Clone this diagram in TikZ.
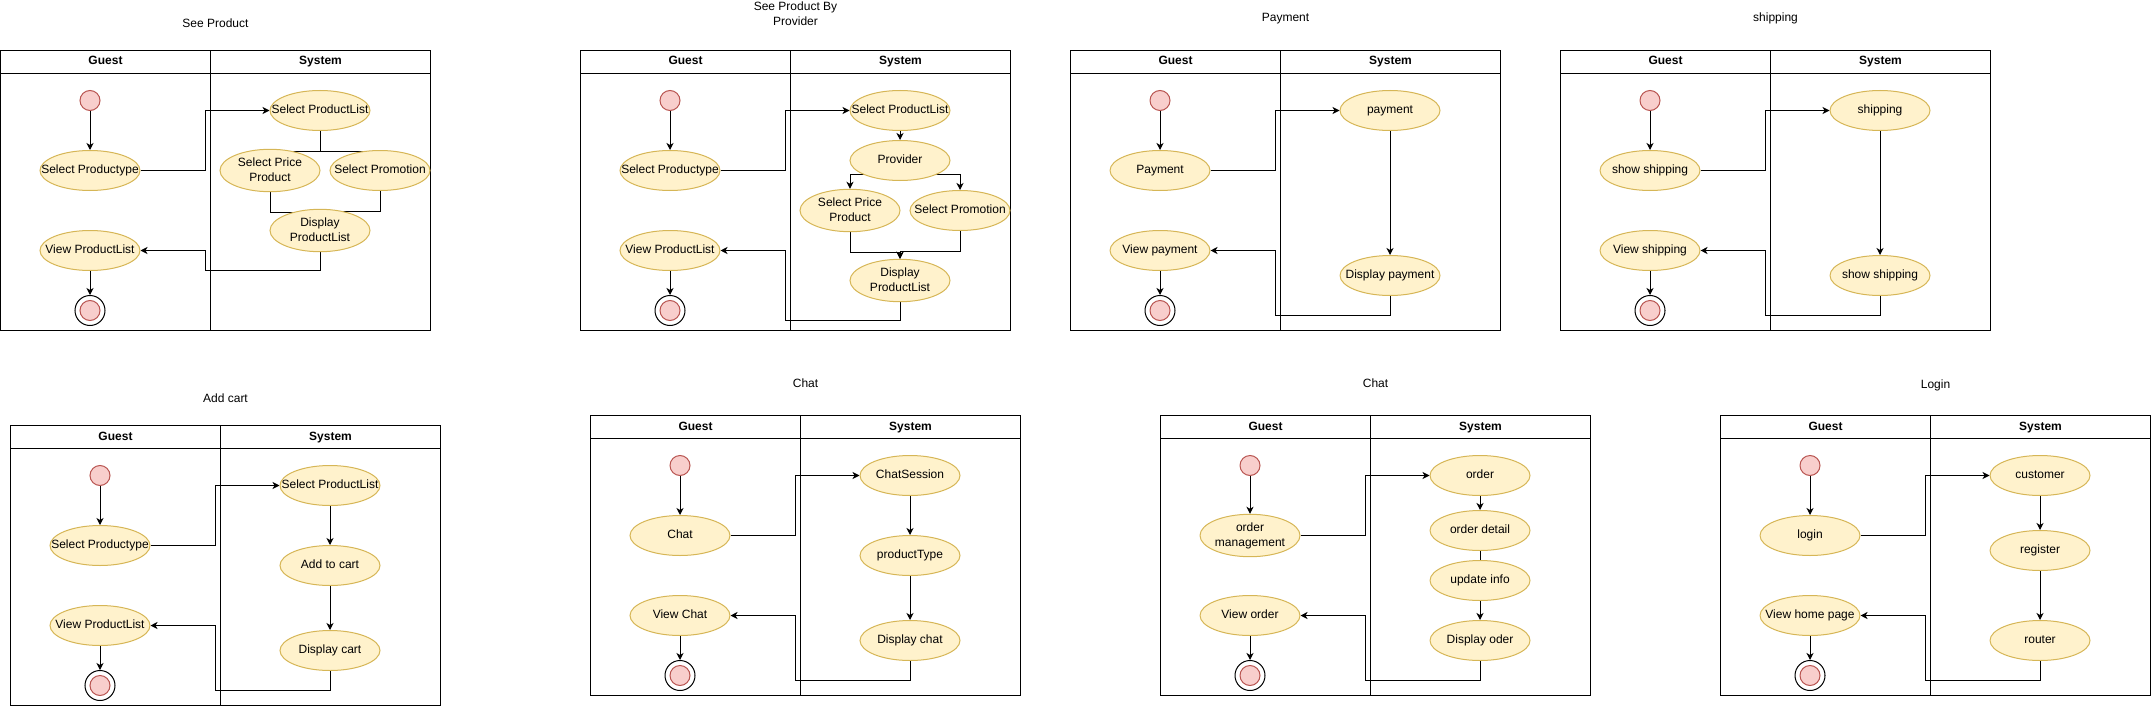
\documentclass[tikz,border=0pt]{standalone}
\usepackage{fontspec}
\setmainfont{Liberation Sans}
\usetikzlibrary{shapes.geometric,arrows.meta,backgrounds}
\definecolor{actf}{HTML}{FFF2CC}
\definecolor{actd}{HTML}{D6B656}
\definecolor{strf}{HTML}{F8CECC}
\definecolor{strd}{HTML}{B85450}
\newcommand\dfs{\fontsize{12}{15}\selectfont}
\newcommand\acttext[1]{\makebox[0pt]{\begin{tabular}{@{}c@{}}#1\end{tabular}}}
\tikzset{
  act/.style={ellipse, draw=actd, fill=actf, line width=1pt, minimum width=100pt, minimum height=40pt, inner sep=0pt, font=\dfs},
  startn/.style={circle, draw=strd, fill=strf, line width=1pt, minimum size=20pt, inner sep=0pt},
  endo/.style={circle, draw=black, fill=white, line width=1pt, minimum size=30pt, inner sep=0pt},
  endi/.style={circle, draw=strd, fill=strf, line width=1pt, minimum size=20pt, inner sep=0pt},
  conn/.style={-{Stealth[length=7pt,width=7pt,inset=2pt]}, line width=1pt},
  plainline/.style={line width=1pt},
  lanebox/.style={draw=black, line width=1pt},
  hdr/.style={font=\dfs\bfseries, inner sep=0pt},
  ttl/.style={font=\dfs, inner sep=0pt},
}
\newcommand\lanepair[5]{%
  \draw[lanebox] (0,0) rectangle (210,280);
  \draw[lanebox] (210,0) rectangle (430,280);
  \draw[lanebox] (0,23) -- (430,23);
  \node[hdr] (#1hg) at (105,11.5) {\acttext{Guest}};
  \node[hdr] (#1hs) at (320,11.5) {\acttext{System}};
  \node[ttl] (#1t) at (215,#3) {\acttext{#2}};
  \node[startn] (#1st) at (89.5,50) {};
  \node[act] (#1g1) at (89.5,120) {\acttext{#4}};
  \node[act] (#1g2) at (89.5,200) {\acttext{#5}};
  \node[endo] (#1en) at (89.5,260) {};
  \node[endi] (#1ei) at (89.5,260) {};
  \draw[conn] (#1st) -- (#1g1);
  \draw[conn] (#1g2) -- (#1en);
}
\begin{document}
\begin{tikzpicture}[x=1pt,y=-1pt]
\useasboundingbox (0,0) rectangle (2151,706);

% ---------- See Product
\begin{scope}[shift={(0.5,50.5)}]
\lanepair{a}{See Product}{-26}{Select Productype}{View ProductList}
\node[act] (as1) at (319.5,60) {\acttext{Select ProductList}};
\node[act] (as2) at (269.5,120) {\acttext{Select Price\\Product}};
\node[act] (as3) at (379.5,120) {\acttext{Select Promotion}};
\node[act] (as4) at (319.5,180) {\acttext{Display\\ProductList}};
\begin{scope}[on background layer]
\draw[conn] (ag1.east) -| (205,60) -- (as1.west);
\draw[conn,shorten >=13pt] (as1.south) -- ++(0,20) -| (as2.center);
\draw[conn,shorten >=13pt] (as1.south) -- ++(0,20) -| (as3.center);
\draw[conn,shorten >=13pt] (as2.south) -- ++(0,20) -| (as4.center);
\draw[conn,shorten >=13pt] (as3.south) -- ++(0,20) -| (as4.center);
\draw[conn] (as4.south) |- (205,220) |- (ag2.east);
\end{scope}
\end{scope}

% ---------- See Product By Provider
\begin{scope}[shift={(580.5,50.5)}]
\lanepair{b}{See Product By\\Provider}{-35.5}{Select Productype}{View ProductList}
\node[act] (bs1) at (319.5,60) {\acttext{Select ProductList}};
\node[act] (bpv) at (319.5,110) {\acttext{Provider}};
\node[act] (bs2) at (269.5,160) {\acttext{Select Price\\Product}};
\node[act] (bs3) at (379.5,160) {\acttext{Select Promotion}};
\node[act] (bs4) at (319.5,230) {\acttext{Display\\ProductList}};
\begin{scope}[on background layer]
\draw[conn] (bg1.east) -| (205,60) -- (bs1.west);
\draw[conn] (bs1) -- (bpv);
\draw[conn] ([yshift=-14pt]bpv.center) -| (bs2.north);
\draw[conn] ([yshift=-14pt]bpv.center) -| (bs3.north);
\draw[conn] (bs2.south) -- ++(0,20) -| (bs4.north);
\draw[conn] (bs3.south) -- ++(0,20) -| (bs4.north);
\draw[conn] (bs4.south) |- (205,270) |- (bg2.east);
\end{scope}
\end{scope}

% ---------- Payment
\begin{scope}[shift={(1070.5,50.5)}]
\lanepair{c}{Payment}{-31.5}{Payment}{View payment}
\node[act] (cs1) at (319.5,60) {\acttext{payment}};
\node[act] (cs2) at (319.5,225) {\acttext{Display payment}};
\begin{scope}[on background layer]
\draw[conn] (cg1.east) -| (205,60) -- (cs1.west);
\draw[conn] (cs1) -- (cs2);
\draw[conn] (cs2.south) |- (205,265) |- (cg2.east);
\end{scope}
\end{scope}

% ---------- shipping
\begin{scope}[shift={(1560.5,50.5)}]
\lanepair{d}{shipping}{-31.5}{show shipping}{View shipping}
\node[act] (ds1) at (319.5,60) {\acttext{shipping}};
\node[act] (ds2) at (319.5,225) {\acttext{show shipping}};
\begin{scope}[on background layer]
\draw[conn] (dg1.east) -| (205,60) -- (ds1.west);
\draw[conn] (ds1) -- (ds2);
\draw[conn] (ds2.south) |- (205,265) |- (dg2.east);
\end{scope}
\end{scope}

% ---------- Add cart
\begin{scope}[shift={(10.5,425.5)}]
\lanepair{e}{Add cart}{-26}{Select Productype}{View ProductList}
\node[act] (es1) at (319.5,60) {\acttext{Select ProductList}};
\node[act] (es2) at (319.5,140) {\acttext{Add to cart}};
\node[act] (es3) at (319.5,225) {\acttext{Display cart}};
\begin{scope}[on background layer]
\draw[conn] (eg1.east) -| (205,60) -- (es1.west);
\draw[conn] (es1) -- (es2);
\draw[conn] (es2) -- (es3);
\draw[conn] (es3.south) |- (205,265) |- (eg2.east);
\end{scope}
\end{scope}

% ---------- Chat
\begin{scope}[shift={(590.5,415.5)}]
\lanepair{f}{Chat}{-31}{Chat}{View Chat}
\node[act] (fs1) at (319.5,60) {\acttext{ChatSession}};
\node[act] (fs2) at (319.5,140) {\acttext{productType}};
\node[act] (fs3) at (319.5,225) {\acttext{Display chat}};
\begin{scope}[on background layer]
\draw[conn] (fg1.east) -| (205,60) -- (fs1.west);
\draw[conn] (fs1) -- (fs2);
\draw[conn] (fs2) -- (fs3);
\draw[conn] (fs3.south) |- (205,265) |- (fg2.east);
\end{scope}
\end{scope}

% ---------- Chat (order)
\begin{scope}[shift={(1160.5,415.5)}]
\lanepair{g}{Chat}{-31}{order\\management}{View order}
\node[act] (gs1) at (319.5,60) {\acttext{order}};
\node[act] (gs2) at (319.5,115) {\acttext{order detail}};
\node[act] (gs3) at (319.5,165) {\acttext{update info}};
\node[act] (gs4) at (319.5,225) {\acttext{Display oder}};
\begin{scope}[on background layer]
\draw[conn] (gg1.east) -| (205,60) -- (gs1.west);
\draw[conn] (gs1) -- (gs2);
\draw[plainline] (gs2) -- (gs3);
\draw[conn] (gs3) -- (gs4);
\draw[conn] (gs4.south) |- (205,265) |- (gg2.east);
\end{scope}
\end{scope}

% ---------- Login
\begin{scope}[shift={(1720.5,415.5)}]
\lanepair{h}{Login}{-30.5}{login}{View home page}
\node[act] (hs1) at (319.5,60) {\acttext{customer}};
\node[act] (hs2) at (319.5,135) {\acttext{register}};
\node[act] (hs3) at (319.5,225) {\acttext{router}};
\begin{scope}[on background layer]
\draw[conn] (hg1.east) -| (205,60) -- (hs1.west);
\draw[conn] (hs1) -- (hs2);
\draw[conn] (hs2) -- (hs3);
\draw[conn] (hs3.south) |- (205,265) |- (hg2.east);
\end{scope}
\end{scope}
\end{tikzpicture}
\end{document}
